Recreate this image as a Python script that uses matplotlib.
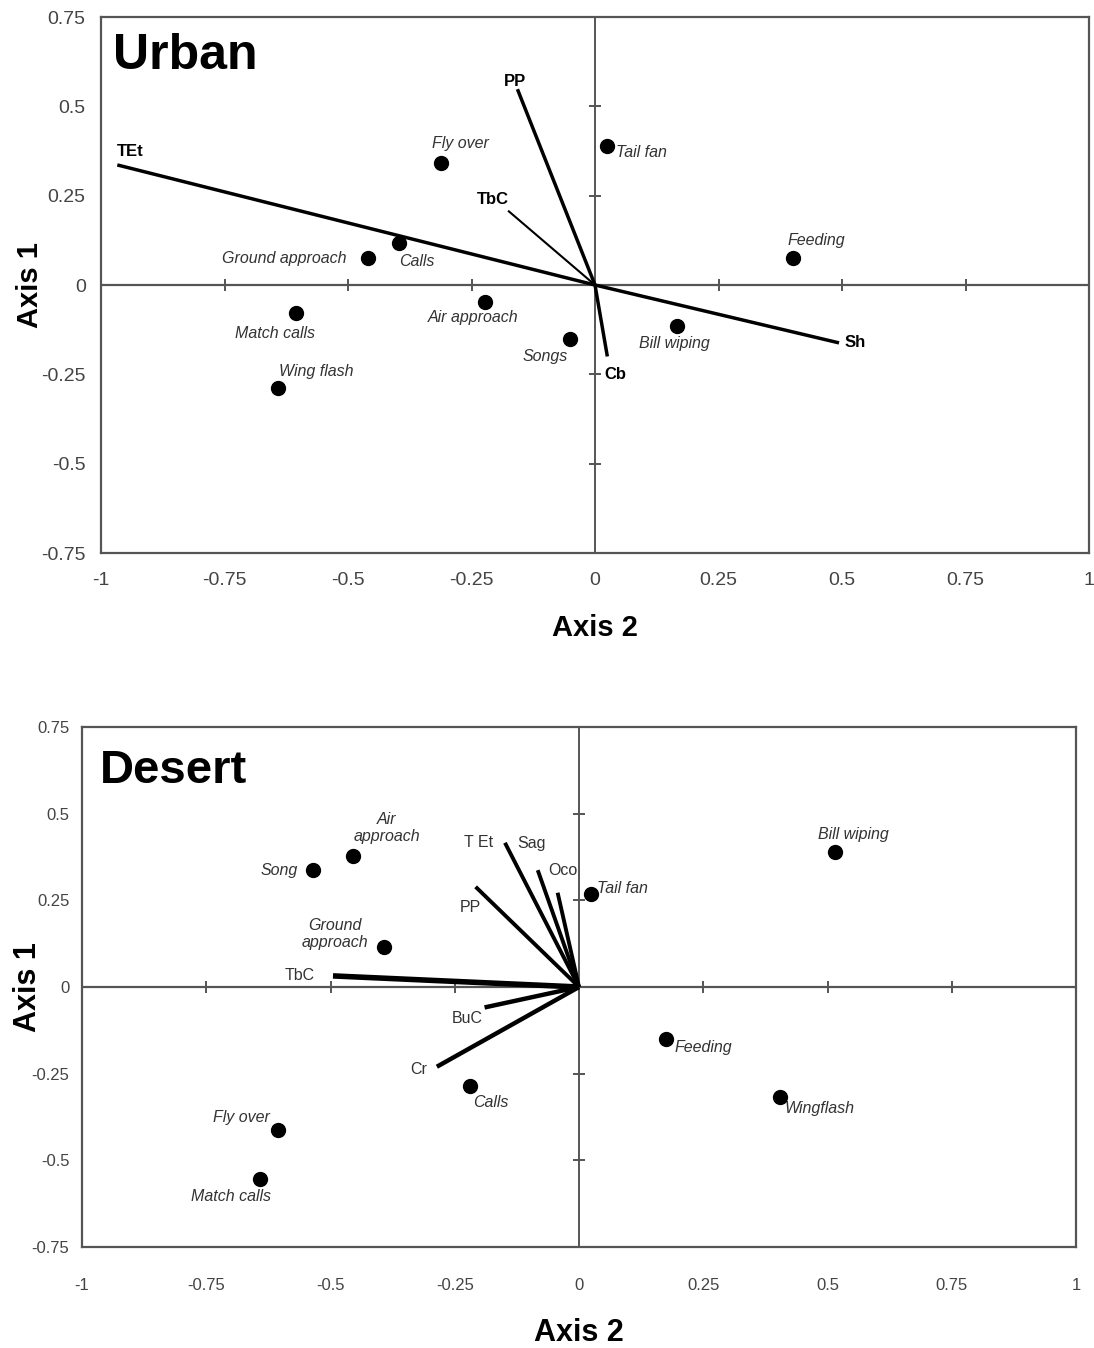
import matplotlib
matplotlib.use("Agg")
import matplotlib.pyplot as plt

# ---- data (x = Axis 2, y = Axis 1)
urb_pts = ["Fly over", "Tail fan", "Feeding", "Calls", "Ground approach",
           "Match calls", "Wing flash", "Air approach", "Songs", "Bill wiping"]
urb_x = [-0.312, 0.025, 0.40, -0.397, -0.46, -0.606, -0.641, -0.223, -0.051, 0.167]
urb_y = [0.341, 0.39, 0.075, 0.117, 0.075, -0.078, -0.288, -0.047, -0.151, -0.115]
urb_vec = ["TEt", "PP", "TbC", "Sh", "Cb"]
urb_vx = [-0.967, -0.157, -0.176, 0.494, 0.025]
urb_vy = [0.336, 0.548, 0.208, -0.162, -0.20]

des_pts = ["Song", "Air\napproach", "Ground\napproach", "Tail fan", "Bill wiping",
           "Feeding", "Wingflash", "Calls", "Fly over", "Match calls"]
des_x = [-0.536, -0.455, -0.393, 0.024, 0.515, 0.175, 0.405, -0.22, -0.606, -0.641]
des_y = [0.337, 0.378, 0.116, 0.267, 0.39, -0.151, -0.318, -0.287, -0.412, -0.554]
des_vec = ["TbC", "T Et", "Sag", "Oco", "PP", "BuC", "Cr"]
des_vx = [-0.495, -0.149, -0.083, -0.043, -0.208, -0.19, -0.286]
des_vy = [0.032, 0.416, 0.337, 0.272, 0.289, -0.059, -0.23]

xticks = [-1, -0.75, -0.5, -0.25, 0, 0.25, 0.5, 0.75, 1]
xtick_lab = ["-1", "-0.75", "-0.5", "-0.25", "0", "0.25", "0.5", "0.75", "1"]
yticks = [-0.75, -0.5, -0.25, 0, 0.25, 0.5, 0.75]
ytick_lab = ["-0.75", "-0.5", "-0.25", "0", "0.25", "0.5", "0.75"]

# ---- label layout (offset in pixels, horizontal alignment)
urb_pt_off = [(20, 20, "center"), (9, -7, "left"), (24, 18, "center"), (0, -18, "left"),
              (-21, 0, "right"), (-21, -21, "center"), (1, 16, "left"), (-12, -16, "center"),
              (-25, -18, "center"), (-3, -17, "center")]
urb_v_off = [(0, 13, "left"), (-2, 8, "center"), (-15, 11, "center"), (5, 0, "left"), (-3, -18, "left")]
urb_lw = [2.5, 2.5, 1.5, 2.5, 2.5]

des_pt_off = [(-15, 0, "right"), (34, 28, "center"), (-49, 13, "center"), (6, 6, "left"),
              (18, 17, "center"), (9, -8, "left"), (4, -11, "left"), (3, -16, "left"),
              (-8, 12, "right"), (-29, -17, "center")]
des_v_off = [(-18, 0, "right"), (-12, 0, "right"), (-6, 27, "center"), (5, 22, "center"),
             (-5, -21, "center"), (-17, -11, "center"), (-10, -3, "right")]
des_lw = [4, 2.8, 2.8, 2.8, 2.8, 3.2, 3.2]

W, H = 1094, 1348
FAM = ["Liberation Sans", "DejaVu Sans"]
GREY = "#555555"
TXT = "#333333"

fig = plt.figure(figsize=(W / 100, H / 100), dpi=100)


def px_axes(l, t, r, b):
    return fig.add_axes([l / W, 1 - b / H, (r - l) / W, (b - t) / H])


def panel(ax, title, tsize, tpos, pts, xs, ys, poff, psize, vec, vx, vy, voff, vlw,
          vsize, vweight, tick_fs, xpad, ypad):
    ax.set_xlim(-1, 1); ax.set_ylim(-0.75, 0.75)
    for s in ax.spines.values():
        s.set_color(GREY); s.set_linewidth(1.6)
    ax.axhline(0, color=GREY, lw=1.6, zorder=1)
    ax.axvline(0, color=GREY, lw=1.4, zorder=1)
    inner_x = [t for t in xticks if t not in (-1, 0, 1)]
    inner_y = [t for t in yticks if t not in (-0.75, 0, 0.75)]
    ax.plot(inner_x, [0] * len(inner_x), ls="none", marker="|", ms=8, mew=1.4, color=GREY)
    ax.plot([0] * len(inner_y), inner_y, ls="none", marker="_", ms=8, mew=1.4, color=GREY)
    ax.set_xticks(xticks); ax.set_xticklabels(xtick_lab)
    ax.set_yticks(yticks); ax.set_yticklabels(ytick_lab)
    ax.tick_params(length=0, labelsize=tick_fs, labelcolor="#444444")
    ax.tick_params(axis="x", pad=xpad); ax.tick_params(axis="y", pad=ypad)
    for lab in ax.get_xticklabels() + ax.get_yticklabels():
        lab.set_family(FAM)
    # environmental vectors
    for n, x, y, (dx, dy, ha), lw in zip(vec, vx, vy, voff, vlw):
        ax.plot([0, x], [0, y], color="black", lw=lw, solid_capstyle="butt", zorder=3)
        ax.annotate(n, (x, y), xytext=(dx, dy), textcoords="offset pixels", ha=ha,
                    va="center", fontsize=vsize, fontweight=vweight, family=FAM,
                    color="black" if vweight == "bold" else TXT)
    # behaviours
    ax.scatter(xs, ys, s=100, color="black", zorder=4)
    for n, x, y, (dx, dy, ha) in zip(pts, xs, ys, poff):
        ax.annotate(n, (x, y), xytext=(dx, dy), textcoords="offset pixels", ha=ha,
                    va="center", fontsize=psize, style="italic", family=FAM,
                    color=TXT, multialignment="center", linespacing=1.15)
    ax.text(tpos[0], tpos[1], title, transform=ax.transAxes, fontsize=tsize,
            fontweight="bold", family=FAM, va="center", ha="left")


ax1 = px_axes(101, 17, 1089, 553)
panel(ax1, "Urban", 36, (0.012, 0.928), urb_pts, urb_x, urb_y, urb_pt_off, 11.5,
      urb_vec, urb_vx, urb_vy, urb_v_off, urb_lw, 12, "bold", 14, 14, 11)
fig.text(30 / W, 1 - 285 / H, "Axis 1", rotation=90, ha="center", va="center",
         fontsize=21, fontweight="bold", family=FAM)
fig.text(595 / W, 1 - 628 / H, "Axis 2", ha="center", va="center",
         fontsize=21, fontweight="bold", family=FAM)

ax2 = px_axes(82, 727, 1076, 1247)
panel(ax2, "Desert", 34, (0.018, 0.915), des_pts, des_x, des_y, des_pt_off, 11.5,
      des_vec, des_vx, des_vy, des_v_off, des_lw, 11.5, "normal", 12, 22, 9)
fig.text(28 / W, 1 - 987 / H, "Axis 1", rotation=90, ha="center", va="center",
         fontsize=22, fontweight="bold", family=FAM)
fig.text(579 / W, 1 - 1333 / H, "Axis 2", ha="center", va="center",
         fontsize=22, fontweight="bold", family=FAM)

fig.savefig("out.png", dpi=100)
